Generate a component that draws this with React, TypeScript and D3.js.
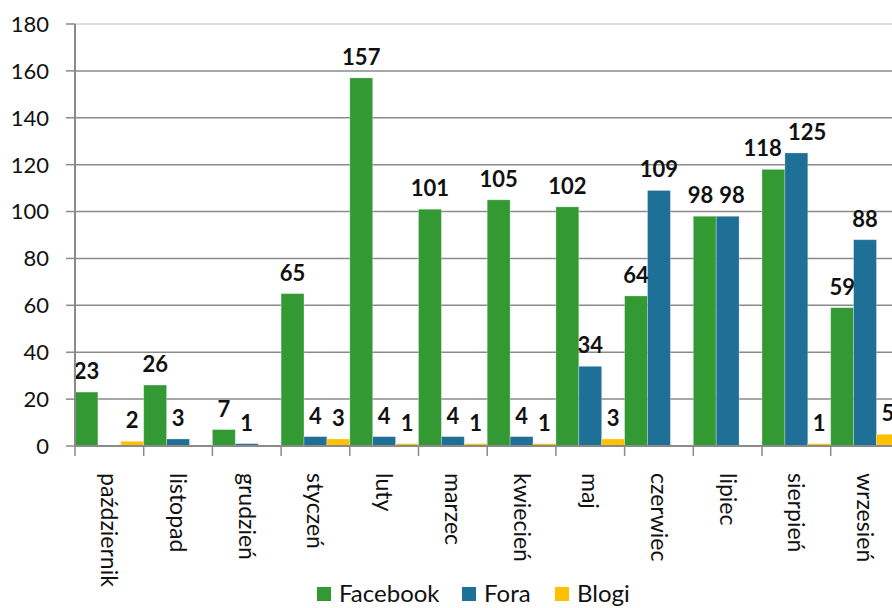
import React from "react";
import * as d3 from "d3";

const months = ["październik", "listopad", "grudzień", "styczeń", "luty", "marzec", "kwiecień", "maj", "czerwiec", "lipiec", "sierpień", "wrzesień"];
const seriesNames = ["Facebook", "Fora", "Blogi"];
const facebook = [23, 26, 7, 65, 157, 101, 105, 102, 64, 98, 118, 59];
const fora = [0, 3, 1, 4, 4, 4, 4, 34, 109, 98, 125, 88];
const blogi = [2, 0, 0, 3, 1, 1, 1, 3, 0, 0, 1, 5];
const yTicks = [0, 20, 40, 60, 80, 100, 120, 140, 160, 180];
const colors = ["#339933", "#1f7096", "#ffc000"];

const W = 892, H = 608;
const left = 75, catW = 68.7, top = 24, bottom = 446;
const labelFont = 22;
const digitW = 12.8;
const labelGap = 13;
const capH = 16;

export default function App() {
  const values = [facebook, fora, blogi];
  const x = d3.scaleBand<string>().domain(months).range([left, left + catW * months.length]).padding(0);
  const xs = d3.scaleBand<string>().domain(seriesNames).range([0, x.bandwidth()]).padding(0);
  const y = d3.scaleLinear().domain([0, 180]).range([bottom, top]);
  const font = "Lato, 'Open Sans', sans-serif";

  // build labels with simple horizontal collision avoidance
  const labels: { key: string; x: number; y: number; v: number }[] = [];
  months.forEach((m, i) => {
    const row = seriesNames.map((s, j) => {
      const v = values[j][i];
      const cx = (x(m) as number) + (xs(s) as number) + xs.bandwidth() / 2;
      return { key: m + s, x: cx, y: y(v) - labelGap, v, w: String(v).length * digitW };
    }).filter((l) => l.v > 0);
    for (let k = 0; k < row.length - 1; k++) {
      const a = row[k], b = row[k + 1];
      if (Math.abs(a.y - b.y) < capH + 2) {
        const need = (a.w + b.w) / 2 + 6;
        const have = b.x - a.x;
        if (have < need) {
          const d = (need - have) / 2;
          a.x -= d;
          b.x += d;
        }
      }
    }
    row.forEach((l) => labels.push(l));
  });

  return (
    <svg width={W} height={H} style={{ position: "absolute", left: 0, top: 0, background: "#fff" }} fontFamily={font}>
      {yTicks.map((t) => (
        <g key={t}>
          {t > 0 && <line x1={left} x2={W} y1={y(t)} y2={y(t)} stroke={t === 180 ? "#d4d4d4" : "#8a8a8a"} strokeWidth={1.5} />}
          <line x1={66} x2={left} y1={y(t)} y2={y(t)} stroke="#8a8a8a" strokeWidth={1.5} />
          <text x={49} y={y(t)} dy="0.36em" textAnchor="end" fontSize={22} fill="#111">{t}</text>
        </g>
      ))}
      {months.map((m, i) => (
        <g key={m}>
          {seriesNames.map((s, j) => {
            const v = values[j][i];
            const bx = (x(m) as number) + (xs(s) as number);
            return v > 0 ? (
              <rect key={s} x={bx} y={y(v)} width={xs.bandwidth()} height={bottom - y(v)} fill={colors[j]} stroke="#ffffff" strokeOpacity={0.35} strokeWidth={0.8} />
            ) : null;
          })}
        </g>
      ))}
      {labels.map((l) => (
        <text key={"v" + l.key} x={l.x} y={l.y} textAnchor="middle" fontSize={labelFont} fontWeight="bold" fill="#111">{l.v}</text>
      ))}
      <line x1={left} x2={left} y1={top} y2={bottom} stroke="#8a8a8a" strokeWidth={2} />
      <line x1={left} x2={W} y1={bottom} y2={bottom} stroke="#8a8a8a" strokeWidth={2} />
      {months.map((m) => (
        <line key={"t" + m} x1={(x(m) as number)} x2={(x(m) as number)} y1={bottom} y2={bottom + 10} stroke="#8a8a8a" strokeWidth={1.5} />
      ))}
      {months.map((m) => {
        const cx = (x(m) as number) + x.bandwidth() / 2;
        return (
          <text key={"l" + m} transform={`translate(${cx - 8},473) rotate(90)`} fontSize={23} fill="#111">{m}</text>
        );
      })}
      {seriesNames.map((s, j) => {
        const lx = [317, 462, 555][j];
        return (
          <g key={"lg" + s}>
            <rect x={lx} y={587} width={14} height={14} fill={colors[j]} />
            <text x={lx + 22} y={602} fontSize={24} fill="#111">{s}</text>
          </g>
        );
      })}
    </svg>
  );
}
